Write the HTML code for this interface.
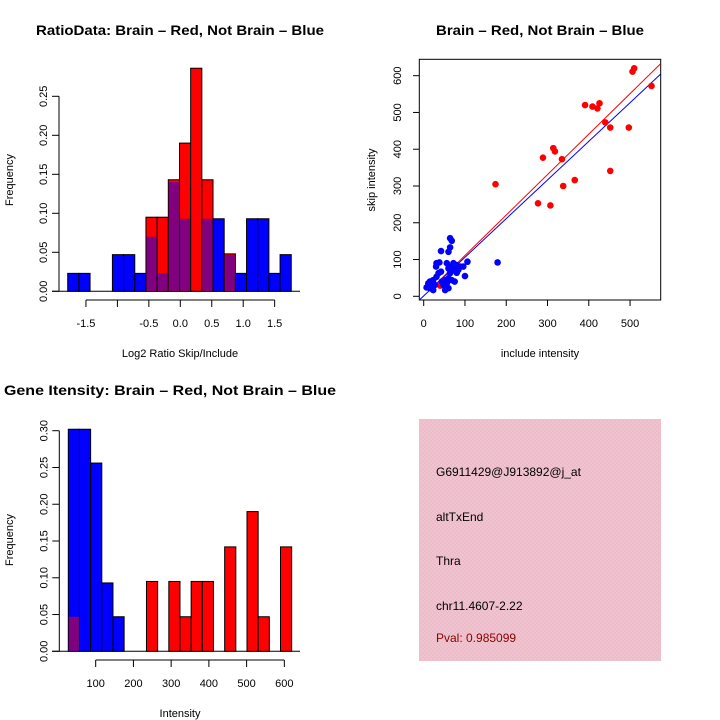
<!DOCTYPE html>
<html><head><meta charset="utf-8"><style>
html,body{margin:0;padding:0;background:#fff}
svg{display:block;font-family:"Liberation Sans",sans-serif}
</style></head><body>
<svg id="s" width="720" height="720" viewBox="0 0 720 720">
<defs>
<pattern id="pk" width="4" height="4" patternUnits="userSpaceOnUse">
<rect width="4" height="4" fill="#f4b8c8"/><rect x="0" y="0" width="2" height="2" fill="#e8c8d0"/><rect x="2" y="2" width="2" height="2" fill="#e8c8d0"/>
</pattern>
</defs>
<text x="180" y="35" text-anchor="middle" font-weight="bold" font-size="14" textLength="288" lengthAdjust="spacingAndGlyphs">RatioData: Brain – Red, Not Brain – Blue</text>
<text x="540" y="35" text-anchor="middle" font-weight="bold" font-size="14" textLength="208" lengthAdjust="spacingAndGlyphs">Brain – Red, Not Brain – Blue</text>
<text x="170" y="395" text-anchor="middle" font-weight="bold" font-size="14" textLength="332" lengthAdjust="spacingAndGlyphs">Gene Itensity: Brain – Red, Not Brain – Blue</text>
<text transform="translate(13,180) rotate(-90)" text-anchor="middle" font-size="11">Frequency</text>
<text x="180" y="357" text-anchor="middle" font-size="11">Log2 Ratio Skip/Include</text>
<text transform="translate(13,540) rotate(-90)" text-anchor="middle" font-size="11">Frequency</text>
<text x="180" y="717" text-anchor="middle" font-size="11">Intensity</text>
<text x="540" y="357" text-anchor="middle" font-size="11">include intensity</text>
<text transform="translate(375,180) rotate(-90)" text-anchor="middle" font-size="11">skip intensity</text>
<g>
<rect x="419" y="419" width="242" height="242" fill="url(#pk)"/>
<text x="436" y="476" font-size="12">G6911429@J913892@j_at</text>
<text x="436" y="521" font-size="12">altTxEnd</text>
<text x="436" y="565" font-size="12">Thra</text>
<text x="436" y="610" font-size="12">chr11.4607-2.22</text>
<text x="436" y="642" font-size="12" fill="#8b0000">Pval: 0.985099</text>
</g>
</svg>
<script>
// Ratio histogram data
const ratioBinStart = -1.79, ratioBinWidth = 0.1777;
const ratioBlue = [0.023,0.023,0,0,0.047,0.047,0.023,0.070,0.023,0.140,0.093,0,0.093,0.093,0.0465,0.023,0.093,0.093,0.023,0.047];
const ratioRed  = [0,0,0,0,0,0,0,0.095,0.095,0.143,0.190,0.286,0.143,0,0.048,0,0,0,0,0];
const ratioXTicks = [-1.5,-1,-0.5,0,0.5,1,1.5];
const ratioXLabels = ["-1.5","","-0.5","0.0","0.5","1.0","1.5"];
const ratioYTicks = [0,0.05,0.10,0.15,0.20,0.25];
const ratioYLabels = ["0.00","0.05","0.10","0.15","0.20","0.25"];
// Intensity histogram data
const intBinStart = 27.4, intBinWidth = 29.6;
const intBlue = [0.302,0.302,0.256,0.093,0.047,0,0,0,0,0,0,0,0,0,0,0,0,0,0,0];
const intRed  = [0.047,0,0,0,0,0,0,0.095,0,0.095,0.047,0.095,0.095,0,0.142,0,0.190,0.047,0,0.142];
const intXTicks = [100,200,300,400,500,600];
const intYTicks = [0,0.05,0.10,0.15,0.20,0.25,0.30];
const intYLabels = ["0.00","0.05","0.10","0.15","0.20","0.25","0.30"];
// Scatter data
const redX = [174,277,307,289,314,318,335,338,366,391,409,421,426,440,452,452,497,506,510,552,40];
const redY = [305,253,247,377,403,394,373,300,316,520,516,511,525,473,459,341,459,611,620,572,29];
const blueX = [64,68,64,42,60,106,179,100,31,38,30,36,42,31,15,23,11,19,15,23,27,52,60,52,60,56,68,75,64,68,72,80,75,84,60,56,68,88,44,48,7,80,96];
const blueY = [158,151,133,123,121,94,92,55,90,92,81,63,67,53,40,44,35,26,22,17,31,17,22,44,49,35,44,40,63,81,90,85,76,72,76,90,72,81,40,31,24,64,81];
const redFit = [1, 1.1], blueFit = [1, 1.051];
const scXTicks = [0,100,200,300,400,500];
const scYTicks = [0,100,200,300,400,500,600];

const svg = document.getElementById('s');
const NS = 'http://www.w3.org/2000/svg';
function mk(tag, at, parent){ const e=document.createElementNS(NS,tag); for(const k in at) e.setAttribute(k,at[k]); (parent||svg).appendChild(e); return e; }

function hist(g, name, bs, bw, blue, red, X, Y){
  for(let i=0;i<blue.length;i++){
    const x0=X(bs+i*bw), x1=X(bs+(i+1)*bw);
    const b=blue[i], r=red[i], m=Math.min(b,r), hi=Math.max(b,r);
    if(hi<=0) continue;
    const col = b>=r ? '#0000ff' : '#ff0000';
    const top = mk('rect',{x:x0,y:Y(hi),width:x1-x0,height:Y(0)-Y(hi),fill:col,stroke:'#000','stroke-width':1},g);
    
    
    if(m>0){
      const p = mk('rect',{x:x0+0.5,y:Y(m),width:x1-x0-1,height:Y(0)-Y(m)-0.5,fill:'#800080'},g);
      
      
    }
  }
}
function yAxis(g, x, ticks, labels, Y){
  mk('line',{x1:x,x2:x,y1:Y(ticks[0]),y2:Y(ticks[ticks.length-1]),stroke:'#000'},g);
  ticks.forEach((t,i)=>{
    mk('line',{x1:x-7,x2:x,y1:Y(t),y2:Y(t),stroke:'#000'},g);
    const tx = mk('text',{transform:`translate(${x-12},${Y(t)}) rotate(-90)`,'text-anchor':'middle','font-size':11},g);
    
    
    tx.textContent = labels[i];
  });
}
function xAxis(g, y, ticks, labels, X){
  mk('line',{y1:y,y2:y,x1:X(ticks[0]),x2:X(ticks[ticks.length-1]),stroke:'#000'},g);
  ticks.forEach((t,i)=>{
    mk('line',{x1:X(t),x2:X(t),y1:y,y2:y+7,stroke:'#000'},g);
    const tx = mk('text',{x:X(t),y:y+27,'text-anchor':'middle','font-size':11},g);
    
    
    tx.textContent = labels[i];
  });
}

// Ratio histogram
{
  const g = mk('g',{});
  
  
  const X = v => 180.3 + v*62.9, Y = v => 291.3 - v*780;
  mk('line',{x1:52,x2:300,y1:Y(0),y2:Y(0),stroke:'#000'},g);
  hist(g,'ratio',ratioBinStart,ratioBinWidth,ratioBlue,ratioRed,X,Y);
  yAxis(g,59,ratioYTicks,ratioYLabels,Y);
  xAxis(g,300,ratioXTicks,ratioXLabels,X);
}
// Intensity histogram
{
  const g = mk('g',{});
  
  
  const X = v => 57.96 + v*0.3773, Y = v => 651.3 - v*735.3;
  mk('line',{x1:52,x2:300,y1:Y(0),y2:Y(0),stroke:'#000'},g);
  hist(g,'intensity',intBinStart,intBinWidth,intBlue,intRed,X,Y);
  yAxis(g,59.3,intYTicks,intYLabels,Y);
  xAxis(g,660,intXTicks,intXTicks.map(String),X);
}
// Scatter
{
  const g = mk('g',{});
  
  
  const X = v => 423.7 + v*0.4127, Y = v => 296.3 - v*0.3677;
  const box = mk('rect',{x:419.3,y:59.3,width:241.4,height:240.7,fill:'none',stroke:'#000'},g);
  
  
  scXTicks.forEach(t=>{
    mk('line',{x1:X(t),x2:X(t),y1:300,y2:306,stroke:'#000'},g);
    const tx=mk('text',{x:X(t),y:327,'text-anchor':'middle','font-size':11},g);
    
    
    tx.textContent=t;
  });
  scYTicks.forEach(t=>{
    mk('line',{x1:413,x2:419.3,y1:Y(t),y2:Y(t),stroke:'#000'},g);
    const tx=mk('text',{transform:`translate(401,${Y(t)}) rotate(-90)`,'text-anchor':'middle','font-size':11},g);
    
    
    tx.textContent=t;
  });
  const bl = mk('line',{x1:X(-10.6),y1:Y(blueFit[0]+blueFit[1]*-10.6),x2:X(574),y2:Y(blueFit[0]+blueFit[1]*574),stroke:'#0000ff'},g);
  
  
  const rl = mk('line',{x1:X(31),y1:Y(redFit[0]+redFit[1]*31),x2:X(574),y2:Y(redFit[0]+redFit[1]*574),stroke:'#ff0000'},g);
  
  
  redX.forEach((v,i)=>{
    const c=mk('circle',{cx:X(v),cy:Y(redY[i]),r:3.3,fill:'#ff0000'},g);
    
    
  });
  blueX.forEach((v,i)=>{
    const c=mk('circle',{cx:X(v),cy:Y(blueY[i]),r:3.3,fill:'#0000ff'},g);
    
    
  });
}
</script>
</body></html>
